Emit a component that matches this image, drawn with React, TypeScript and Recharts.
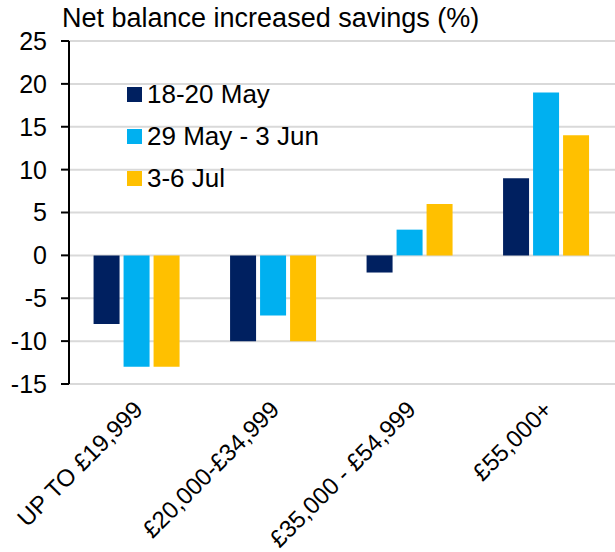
import { Bar, BarChart, CartesianGrid, XAxis, YAxis } from 'recharts';

const categories = ['UP TO £19,999', '£20,000-£34,999', '£35,000 - £54,999', '£55,000+'];
const may = [-8, -10, -2, 9];
const june = [-13, -7, 3, 19];
const july = [-13, -10, 6, 14];
const yTicks = [-15, -10, -5, 0, 5, 10, 15, 20, 25];

const series = [
  { key: 'may', name: '18-20 May', color: '#002060' },
  { key: 'june', name: '29 May - 3 Jun', color: '#00B0F0' },
  { key: 'july', name: '3-6 Jul', color: '#FFC000' },
];

const data = categories.map((name, i) => ({
  name,
  may: may[i],
  june: june[i],
  july: july[i],
}));

const FONT = '"Liberation Sans", Arial, sans-serif';

const AngledTick = ({ x, y, payload }: any) => (
  <text
    x={x + 7}
    y={y + 19}
    textAnchor="end"
    fontSize={24}
    fontFamily={FONT}
    fill="#000"
    transform={`rotate(-45 ${x + 7} ${y + 19})`}
  >
    {payload.value}
  </text>
);

const App = () => (
  <div style={{ position: 'absolute', left: 0, top: 0, width: 615, height: 552, background: '#fff' }}>
    <BarChart
      width={615}
      height={552}
      data={data}
      margin={{ top: 41, right: 0, bottom: 0, left: 0 }}
      barCategoryGap="18%"
      barGap={4}
    >
      <CartesianGrid vertical={false} stroke="#d9d9d9" strokeWidth={2} />
      <XAxis
        dataKey="name"
        axisLine={false}
        tickLine={false}
        interval={0}
        height={168}
        tick={<AngledTick />}
      />
      <YAxis
        domain={[-15, 25]}
        ticks={yTicks}
        interval={0}
        width={69}
        axisLine={{ stroke: '#000', strokeWidth: 2 }}
        tickLine={{ stroke: '#000', strokeWidth: 2 }}
        tickSize={8}
        tickMargin={14}
        tick={{ fill: '#000', fontSize: 25, fontFamily: FONT }}
      />
      {series.map((s) => (
        <Bar key={s.key} dataKey={s.key} name={s.name} fill={s.color} isAnimationActive={false} />
      ))}
    </BarChart>
    <div
      style={{
        position: 'absolute',
        left: 62,
        top: 3,
        fontFamily: FONT,
        fontSize: 27,
        whiteSpace: 'nowrap',
      }}
    >
      Net balance increased savings (%)
    </div>
    <div style={{ position: 'absolute', left: 127, top: 73, fontFamily: FONT, fontSize: 26 }}>
      {series.map((s) => (
        <div key={s.key} style={{ display: 'flex', alignItems: 'center', height: 42, whiteSpace: 'nowrap' }}>
          <span style={{ width: 15, height: 15, background: s.color, marginRight: 5 }} />
          <span>{s.name}</span>
        </div>
      ))}
    </div>
  </div>
);

export default App;
